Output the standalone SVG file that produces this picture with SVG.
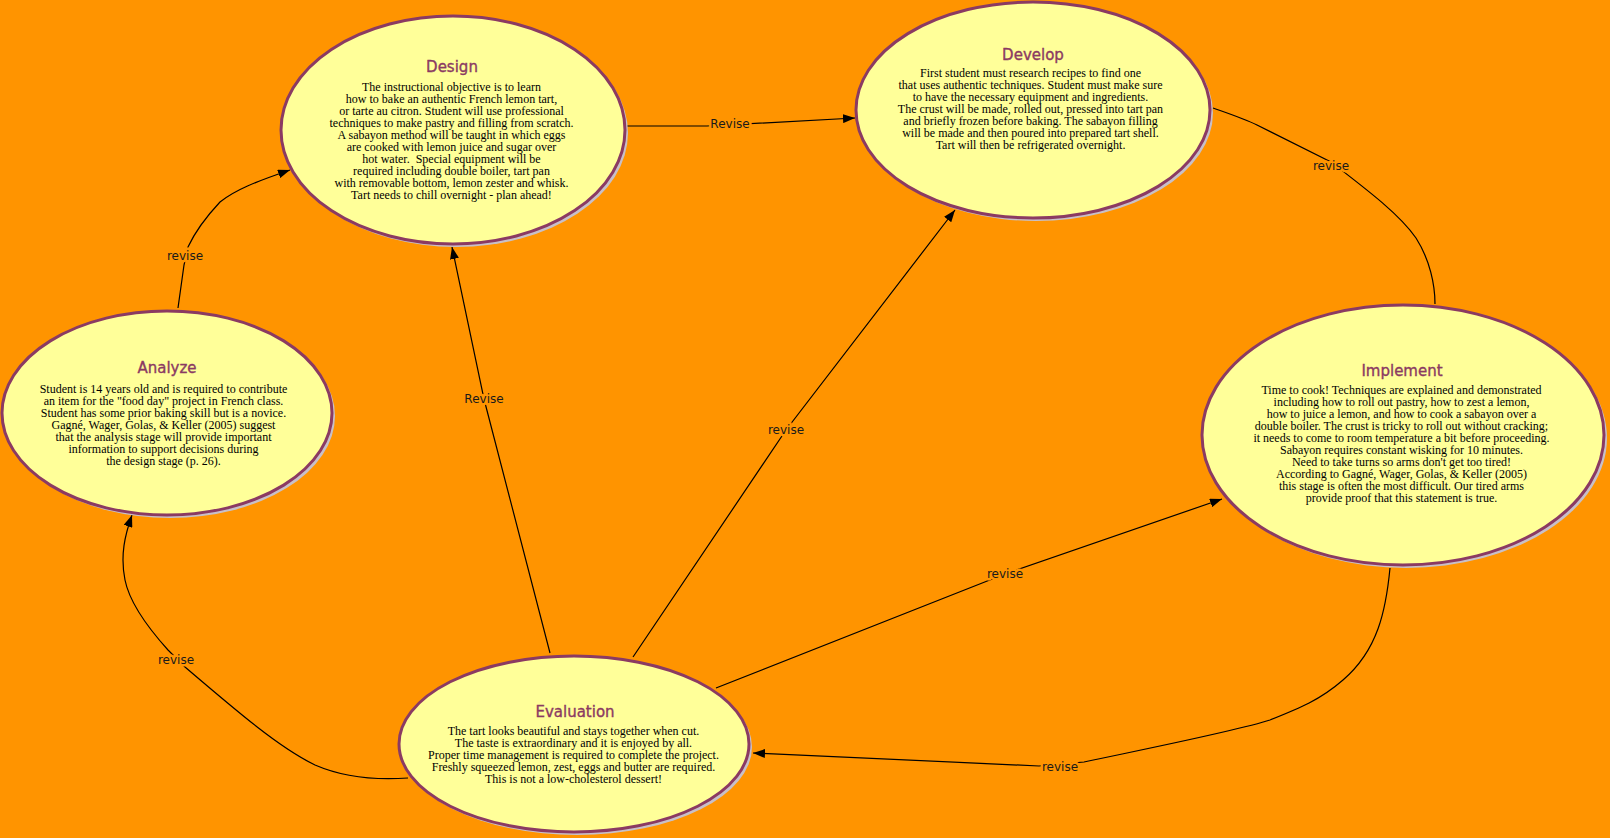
<svg xmlns="http://www.w3.org/2000/svg" width="1610" height="838" viewBox="0 0 1610 838">
<defs>
<marker id="arr" markerWidth="12" markerHeight="9" refX="12" refY="4.5" orient="auto" markerUnits="userSpaceOnUse">
<path d="M0,0 L12,4.5 L0,9 z" fill="#000"/>
</marker>
<style>
.shadow{fill:#c8c0c8;stroke:none}
.node{fill:#ffff99;stroke:#8b3a62;stroke-width:3}
.title{font-family:"DejaVu Sans","Noto Sans",sans-serif;font-size:15px;fill:#8b3a62;text-anchor:middle;stroke:#8b3a62;stroke-width:0.35}
.body{font-family:"Liberation Serif","Times New Roman",serif;font-size:12px;fill:#000;text-anchor:middle;white-space:pre}
.edge{fill:none;stroke:#000;stroke-width:1.2}
.lbl{font-family:"DejaVu Sans",Verdana,sans-serif;font-size:12px;fill:#1a1a1a;text-anchor:middle;stroke:#ff9400;stroke-width:5;paint-order:stroke;stroke-linejoin:round}
</style>
</defs>
<rect x="0" y="0" width="1610" height="838" fill="#ff9400"/>

<g id="connectors">
<path class="edge" d="M178,308 L184,265 L188,247 C195,232 205,218 220,202 C235,190 255,182 290,170" marker-end="url(#arr)"/>
<path class="edge" d="M625,126 L707,126 L855,118" marker-end="url(#arr)"/>
<path class="edge" d="M1213,108 C1230,114 1245,119 1257,125 L1331,162 C1370,192 1400,215 1416,238 C1430,260 1435,285 1435,304"/>
<path class="edge" d="M550,653 L484,399 L452,247" marker-end="url(#arr)"/>
<path class="edge" d="M633,657 L786,430 L955,210" marker-end="url(#arr)"/>
<path class="edge" d="M716,688 L1005,574 L1222,499" marker-end="url(#arr)"/>
<path class="edge" d="M1390,568 C1386,610 1378,650 1343,680 C1320,700 1300,708 1270,720 C1240,730 1150,748 1084,762 L1039,766 L753,753" marker-end="url(#arr)"/>
<path class="edge" d="M408,778 C380,780 345,778 315,765 C280,748 240,714 185,667 L168,650 C150,630 130,605 125,580 C120,555 125,535 132,515" marker-end="url(#arr)"/>
<text class="lbl" x="185" y="260">revise</text>
<text class="lbl" x="730" y="128">Revise</text>
<text class="lbl" x="1331" y="170">revise</text>
<text class="lbl" x="484" y="403">Revise</text>
<text class="lbl" x="786" y="434">revise</text>
<text class="lbl" x="1005" y="578">revise</text>
<text class="lbl" x="1060" y="771">revise</text>
<text class="lbl" x="176" y="664">revise</text>
</g>

<g id="design">
<ellipse class="shadow" cx="456" cy="133" rx="172" ry="114"/>
<ellipse class="node" cx="453" cy="130" rx="172" ry="114"/>
<text class="title" x="452" y="72">Design</text>
<text class="body" y="91">
<tspan x="453">The instructional objective is to learn</tspan>
<tspan x="453" dy="12">how to bake an authentic French lemon tart,</tspan>
<tspan x="453" dy="12">or tarte au citron. Student will use professional</tspan>
<tspan x="453" dy="12">techniques to make pastry and filling from scratch.</tspan>
<tspan x="453" dy="12">A sabayon method will be taught in which eggs</tspan>
<tspan x="453" dy="12">are cooked with lemon juice and sugar over</tspan>
<tspan x="453" dy="12">hot water.  Special equipment will be</tspan>
<tspan x="453" dy="12">required including double boiler, tart pan</tspan>
<tspan x="453" dy="12">with removable bottom, lemon zester and whisk.</tspan>
<tspan x="453" dy="12">Tart needs to chill overnight - plan ahead!</tspan>
</text>
</g>

<g id="develop">
<ellipse class="shadow" cx="1036" cy="113" rx="177" ry="108"/>
<ellipse class="node" cx="1033" cy="110" rx="177" ry="108"/>
<text class="title" x="1033" y="60">Develop</text>
<text class="body" y="77">
<tspan x="1032">First student must research recipes to find one</tspan>
<tspan x="1032" dy="12">that uses authentic techniques. Student must make sure</tspan>
<tspan x="1032" dy="12">to have the necessary equipment and ingredients.</tspan>
<tspan x="1032" dy="12">The crust will be made, rolled out, pressed into tart pan</tspan>
<tspan x="1032" dy="12">and briefly frozen before baking. The sabayon filling</tspan>
<tspan x="1032" dy="12">will be made and then poured into prepared tart shell.</tspan>
<tspan x="1032" dy="12">Tart will then be refrigerated overnight.</tspan>
</text>
</g>

<g id="analyze">
<ellipse class="shadow" cx="170" cy="416" rx="165" ry="102"/>
<ellipse class="node" cx="167" cy="413" rx="165" ry="102"/>
<text class="title" x="167" y="373">Analyze</text>
<text class="body" y="393">
<tspan x="165">Student is 14 years old and is required to contribute</tspan>
<tspan x="165" dy="12">an item for the "food day" project in French class.</tspan>
<tspan x="165" dy="12">Student has some prior baking skill but is a novice.</tspan>
<tspan x="165" dy="12">Gagné, Wager, Golas, &amp; Keller (2005) suggest</tspan>
<tspan x="165" dy="12">that the analysis stage will provide important</tspan>
<tspan x="165" dy="12">information to support decisions during</tspan>
<tspan x="165" dy="12">the design stage (p. 26).</tspan>
</text>
</g>

<g id="implement">
<ellipse class="shadow" cx="1406" cy="438" rx="201" ry="130"/>
<ellipse class="node" cx="1403" cy="435" rx="201" ry="130"/>
<text class="title" x="1402" y="376">Implement</text>
<text class="body" y="394">
<tspan x="1403">Time to cook! Techniques are explained and demonstrated</tspan>
<tspan x="1403" dy="12">including how to roll out pastry, how to zest a lemon,</tspan>
<tspan x="1403" dy="12">how to juice a lemon, and how to cook a sabayon over a</tspan>
<tspan x="1403" dy="12">double boiler. The crust is tricky to roll out without cracking;</tspan>
<tspan x="1403" dy="12">it needs to come to room temperature a bit before proceeding.</tspan>
<tspan x="1403" dy="12">Sabayon requires constant wisking for 10 minutes.</tspan>
<tspan x="1403" dy="12">Need to take turns so arms don't get too tired!</tspan>
<tspan x="1403" dy="12">According to Gagné, Wager, Golas, &amp; Keller (2005)</tspan>
<tspan x="1403" dy="12">this stage is often the most difficult. Our tired arms</tspan>
<tspan x="1403" dy="12">provide proof that this statement is true.</tspan>
</text>
</g>

<g id="evaluation">
<ellipse class="shadow" cx="577" cy="747" rx="175" ry="88"/>
<ellipse class="node" cx="574" cy="744" rx="175" ry="88"/>
<text class="title" x="575" y="717">Evaluation</text>
<text class="body" y="735">
<tspan x="575">The tart looks beautiful and stays together when cut.</tspan>
<tspan x="575" dy="12">The taste is extraordinary and it is enjoyed by all.</tspan>
<tspan x="575" dy="12">Proper time management is required to complete the project.</tspan>
<tspan x="575" dy="12">Freshly squeezed lemon, zest, eggs and butter are required.</tspan>
<tspan x="575" dy="12">This is not a low-cholesterol dessert!</tspan>
</text>
</g>
</svg>
